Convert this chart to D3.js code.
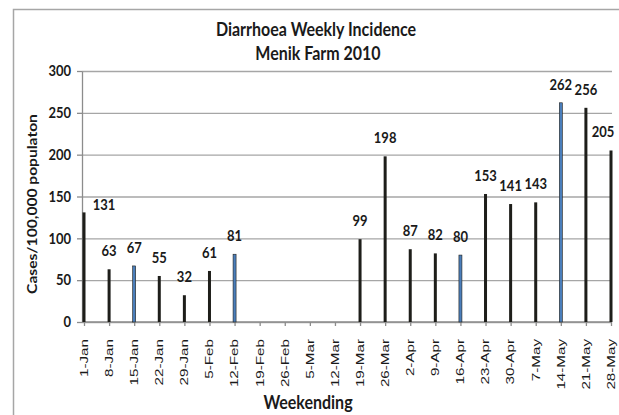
<!DOCTYPE html>
<html>
<head>
<meta charset="utf-8">
<script src="https://cdn.jsdelivr.net/npm/d3@7"></script>
<style>
  body { margin: 0; background: #fff; }
  text { fill: #1a1a1a; }
</style>
</head>
<body>
<div id="chart"></div>
<script>
// chart data
var weeks = ["1-Jan", "8-Jan", "15-Jan", "22-Jan", "29-Jan", "5-Feb", "12-Feb", "19-Feb", "26-Feb",
    "5-Mar", "12-Mar", "19-Mar", "26-Mar", "2-Apr", "9-Apr", "16-Apr", "23-Apr", "30-Apr",
    "7-May", "14-May", "21-May", "28-May"];
var cases = [131, 63, 67, 55, 32, 61, 81, null, null, null, null, 99, 198, 87, 82, 80, 153, 141, 143, 262, 256, 205];
var blueWeeks = ["15-Jan", "12-Feb", "16-Apr", "14-May"];
var yTicks = [0, 50, 100, 150, 200, 250, 300];

var svgWidth = 619;
var svgHeight = 415;

var svg = d3.select("#chart")
    .append("svg")
    .attr("width", svgWidth)
    .attr("height", svgHeight);

// outer chart border (right & bottom edges fall outside the picture)
svg.append("rect")
    .attr("x", 13.5)
    .attr("y", 9.5)
    .attr("width", 640)
    .attr("height", 440)
    .attr("fill", "none")
    .attr("stroke", "#a6a6a6")
    .attr("stroke-width", 1.5);

var plot = { left: 82, right: 612, top: 71, bottom: 322 };

var xScale = d3.scalePoint()
    .domain(weeks)
    .range([84, 611]);

var yScale = d3.scaleLinear()
    .domain([0, 300])
    .range([plot.bottom, plot.top]);

// gridlines
svg.append("g")
    .attr("transform", `translate(${plot.left}, 0)`)
    .call(d3.axisLeft(yScale).tickValues(yTicks).tickSize(-(plot.right - plot.left)).tickFormat(""))
    .call(g => g.select(".domain").remove())
    .selectAll("line")
    .attr("stroke", "#a6a6a6")
    .attr("stroke-width", 1.3);

// y axis
var yAxis = svg.append("g")
    .attr("transform", `translate(${plot.left}, 0)`)
    .call(d3.axisLeft(yScale).tickValues(yTicks).tickSize(5).tickSizeOuter(0).tickPadding(6));
yAxis.select(".domain").attr("stroke", "#8c8c8c").attr("stroke-width", 1.3);
yAxis.selectAll(".tick line").attr("stroke", "#8c8c8c").attr("stroke-width", 1.3);
yAxis.selectAll(".tick text")
    .attr("font-family", "Lato, sans-serif")
    .attr("font-size", "13px")
    .attr("font-weight", "bold")
    .attr("fill", "#1a1a1a")
    .attr("transform", "scale(1,1.2)")
    .attr("dy", "0.3em");

// x axis
var xAxis = svg.append("g")
    .attr("transform", `translate(0, ${plot.bottom})`)
    .call(d3.axisBottom(xScale).tickSize(4).tickSizeOuter(0).tickFormat(""));
xAxis.select(".domain")
    .attr("d", `M${plot.left},0H${plot.right}`)
    .attr("stroke", "#8c8c8c").attr("stroke-width", 1.3);
xAxis.selectAll(".tick line").attr("stroke", "#8c8c8c").attr("stroke-width", 1.3);

// x tick labels, rotated
svg.append("g")
    .selectAll("text")
    .data(weeks)
    .enter()
    .append("text")
    .attr("transform", d => `translate(${xScale(d)}, 339) rotate(-90) scale(1.38,1)`)
    .attr("text-anchor", "end")
    .attr("dy", "0.35em")
    .attr("font-family", "Liberation Sans, Arial, sans-serif")
    .attr("font-size", "11px")
    .text(d => d);

// bars
var barData = weeks.map((w, i) => ({ week: w, value: cases[i] })).filter(d => d.value != null);

svg.append("g")
    .selectAll("rect")
    .data(barData)
    .enter()
    .append("rect")
    .attr("x", d => xScale(d.week) - 1.5)
    .attr("y", d => yScale(d.value))
    .attr("width", 3)
    .attr("height", d => yScale(0) - yScale(d.value))
    .attr("fill", d => blueWeeks.includes(d.week) ? "#4a7ebb" : "#1e1e1a")
    .attr("stroke", d => blueWeeks.includes(d.week) ? "#1e1e1a" : "none")
    .attr("stroke-width", 0.6);

// value labels
svg.append("g")
    .selectAll("text")
    .data(barData)
    .enter()
    .append("text")
    .attr("transform", function(d, i) {
        var x = xScale(d.week);
        var y = yScale(d.value) - 13;
        if (i === 0) { x += 20; y += 11; }
        if (i === barData.length - 1) { x -= 8; }
        return `translate(${x}, ${y}) scale(1,1.2)`;
    })
    .attr("text-anchor", "middle")
    .attr("font-family", "Lato, sans-serif")
    .attr("font-size", "13px")
    .attr("font-weight", "bold")
    .text(d => d.value);

// titles
svg.append("text")
    .attr("transform", "translate(316, 36) scale(1,1.2)")
    .attr("text-anchor", "middle")
    .attr("font-family", "Lato, sans-serif")
    .attr("font-size", "16px")
    .attr("font-weight", "bold")
    .text("Diarrhoea Weekly Incidence");

svg.append("text")
    .attr("transform", "translate(318, 60) scale(1,1.2)")
    .attr("text-anchor", "middle")
    .attr("font-family", "Lato, sans-serif")
    .attr("font-size", "16px")
    .attr("font-weight", "bold")
    .text("Menik Farm 2010");

svg.append("text")
    .attr("transform", "translate(37, 204) rotate(-90) scale(1.2,1)")
    .attr("text-anchor", "middle")
    .attr("font-family", "Lato, sans-serif")
    .attr("font-size", "13px")
    .attr("font-weight", "bold")
    .text("Cases/100,000 populaton");

svg.append("text")
    .attr("transform", "translate(308, 409) scale(1,1.2)")
    .attr("text-anchor", "middle")
    .attr("font-family", "Lato, sans-serif")
    .attr("font-size", "16px")
    .attr("font-weight", "bold")
    .text("Weekending");
</script>
</body>
</html>
